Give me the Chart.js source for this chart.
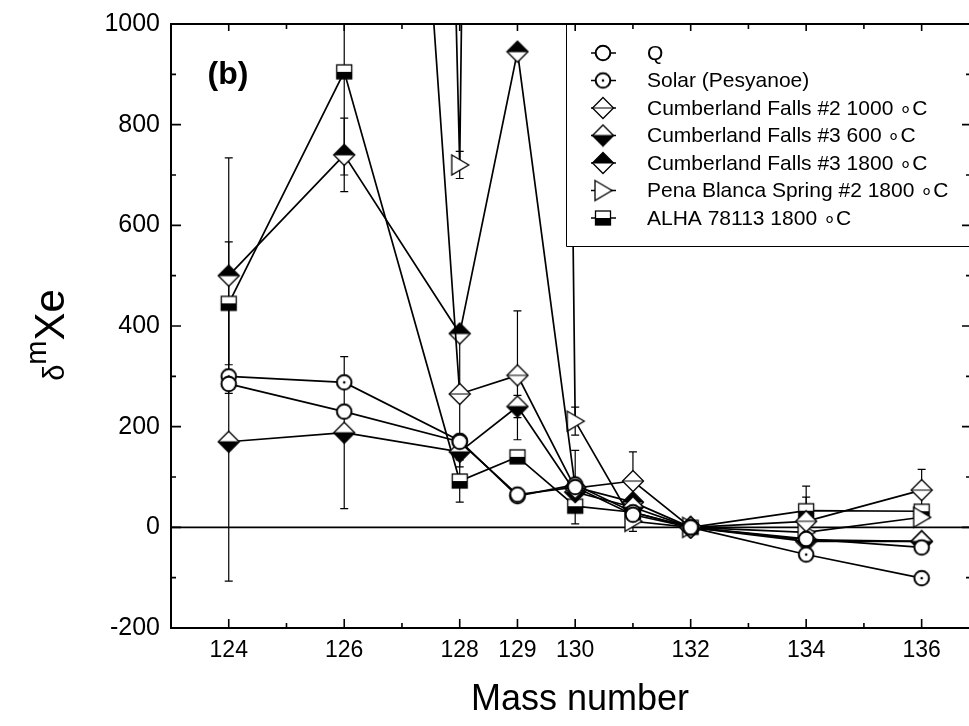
<!DOCTYPE html>
<html><head><meta charset="utf-8">
<script src="https://cdn.jsdelivr.net/npm/chart.js@4.4.1/dist/chart.umd.min.js"></script>
<style>html,body{margin:0;padding:0;background:#fff;}canvas{display:block;}</style>
</head><body>
<canvas id="c" width="969" height="726"></canvas>
<script>
// ---------- data ----------
const masses = [124, 126, 128, 129, 130, 131, 132, 134, 136];
const xTickLabels = [124, 126, 128, 129, 130, 132, 134, 136];
const yTickValues = [-200, 0, 200, 400, 600, 800, 1000];
const seriesNames = ["Q", "Solar (Pesyanoe)", "Cumberland Falls #2 1000 \u2218C", "Cumberland Falls #3 600 \u2218C",
  "Cumberland Falls #3 1800 \u2218C", "Pena Blanca Spring #2 1800 \u2218C", "ALHA 78113 1800 \u2218C"];
const qValues      = [285, 230, 170, 65, 80, 25, 0, -23, -40];
const solarValues  = [300, 288, 172, 62, 85, 30, 0, -54, -101];
const cf2_1000     = [null, 3550, 265, 302, 78, 92, 0, 12, 74];
const cf3_600      = [170, 188, 150, 240, 70, 40, 0, -25, -28];
const cf3_1800     = [500, 740, 385, 945, 80, 50, 0, -28, -28];
const pena_1800    = [null, 10000, 720, 10000, 211, 12, 0, -10, 20];
const alha_1800    = [445, 905, 92, 140, 42, 30, 0, 33, 32];
// symmetric error bars (null = none)
const qErr      = [null, null, null, null, 73, null, null, null, null];
const solarErr  = [null, null, null, null, null, null, null, null, null];
const cf2Err    = [null, null, 115, 128, null, 58, null, 48, 41];
const cf3_600Err  = [277, 151, 30, 22, null, null, null, null, null];
const cf3_1800Err = [234, 73, null, 10, null, null, null, null, null];
const penaErr   = [null, null, 27, null, 28, 20, null, null, null];
const alhaErr   = [122, 205, 42, null, null, null, null, 49, null];

const allValues = [qValues, solarValues, cf2_1000, cf3_600, cf3_1800, pena_1800, alha_1800];
const allErrs = [qErr, solarErr, cf2Err, cf3_600Err, cf3_1800Err, penaErr, alhaErr];
const markerKinds = ["circle", "dotCircle", "diamond", "diamondBottom", "diamondTop", "triRight", "squareBottom"];

// ---------- markers ----------
function makeMarker(kind) {
  const S = 24, c = document.createElement('canvas');
  c.width = S; c.height = S;
  const g = c.getContext('2d');
  const cx = S / 2, cy = S / 2;
  g.lineWidth = 1.3; g.strokeStyle = '#000'; g.fillStyle = '#fff';
  if (kind === 'circle' || kind === 'dotCircle') {
    g.beginPath(); g.arc(cx, cy, 7.3, 0, Math.PI * 2); g.fill(); g.lineWidth = 2; g.stroke();
    if (kind === 'dotCircle') { g.fillStyle = '#000'; g.beginPath(); g.arc(cx, cy, 1.3, 0, Math.PI * 2); g.fill(); }
  } else if (kind.startsWith('diamond')) {
    const w = 10.5, h = 10.5;
    g.beginPath(); g.moveTo(cx, cy - h); g.lineTo(cx + w, cy); g.lineTo(cx, cy + h); g.lineTo(cx - w, cy); g.closePath(); g.fill();
    g.fillStyle = '#000';
    if (kind === 'diamondBottom') { g.beginPath(); g.moveTo(cx - w, cy); g.lineTo(cx + w, cy); g.lineTo(cx, cy + h); g.closePath(); g.fill(); }
    if (kind === 'diamondTop') { g.beginPath(); g.moveTo(cx - w, cy); g.lineTo(cx + w, cy); g.lineTo(cx, cy - h); g.closePath(); g.fill(); }
    g.beginPath(); g.moveTo(cx, cy - h); g.lineTo(cx + w, cy); g.lineTo(cx, cy + h); g.lineTo(cx - w, cy); g.closePath(); g.stroke();
    g.beginPath(); g.moveTo(cx - w, cy); g.lineTo(cx + w, cy); g.lineWidth = 1; g.stroke();
  } else if (kind === 'triRight') {
    g.beginPath(); g.moveTo(cx - 8, cy - 10); g.lineTo(cx + 9, cy); g.lineTo(cx - 8, cy + 10); g.closePath(); g.fill(); g.stroke();
  } else if (kind === 'squareBottom') {
    g.fillRect(cx - 7.5, cy - 7, 15, 14);
    g.fillStyle = '#000'; g.fillRect(cx - 7.5, cy, 15, 7);
    g.strokeRect(cx - 7.5, cy - 7, 15, 14);
  }
  return c;
}
const markers = markerKinds.map(makeMarker);

// ---------- datasets ----------
const datasets = allValues.map((vals, i) => ({
  label: seriesNames[i],
  data: masses.map((m, j) => ({ x: m, y: vals[j] })),
  showLine: true,
  borderColor: '#000',
  borderWidth: 1.7,
  pointStyle: markers[i],
  pointRadius: 10,
  pointHoverRadius: 10,
  spanGaps: false,
  tension: 0
}));

// ---------- plugins ----------
const errorBars = {
  id: 'errorBars',
  beforeDatasetsDraw(chart) {
    const { ctx, chartArea: a, scales: { x, y } } = chart;
    ctx.save();
    ctx.beginPath(); ctx.rect(a.left, a.top, a.right - a.left, a.bottom - a.top); ctx.clip();
    ctx.strokeStyle = '#000'; ctx.lineWidth = 1.2;
    allErrs.forEach((errs, i) => {
      errs.forEach((e, j) => {
        const v = allValues[i][j];
        if (e == null || v == null) return;
        const px = x.getPixelForValue(masses[j]);
        const y1 = y.getPixelForValue(v + e), y2 = y.getPixelForValue(v - e);
        ctx.beginPath();
        ctx.moveTo(px, y1); ctx.lineTo(px, y2);
        ctx.moveTo(px - 4, y1); ctx.lineTo(px + 4, y1);
        ctx.moveTo(px - 4, y2); ctx.lineTo(px + 4, y2);
        ctx.stroke();
      });
    });
    ctx.restore();
  }
};

const frame = {
  id: 'frame',
  beforeDatasetsDraw(chart) {
    const { ctx, scales: { x, y }, chartArea: a } = chart;
    ctx.save();
    ctx.strokeStyle = '#000'; ctx.lineWidth = 1.8;
    const y0 = y.getPixelForValue(0);
    ctx.beginPath(); ctx.moveTo(a.left, y0); ctx.lineTo(a.right, y0); ctx.stroke();
    ctx.restore();
  },
  afterDatasetsDraw(chart) {
    const { ctx, scales: { x, y }, chartArea: a } = chart;
    ctx.save();
    // legend box
    const lx = 566, ly = a.top, lb = 246;
    ctx.fillStyle = '#fff'; ctx.fillRect(lx, ly, 969 - lx + 5, lb - ly);
    ctx.strokeStyle = '#000'; ctx.lineWidth = 1;
    ctx.beginPath(); ctx.moveTo(lx + 0.5, ly); ctx.lineTo(lx + 0.5, lb + 0.5); ctx.lineTo(975, lb + 0.5); ctx.stroke();
    ctx.font = '21px "Liberation Sans", Arial, sans-serif';
    ctx.fillStyle = '#000'; ctx.textBaseline = 'middle'; ctx.textAlign = 'left';
    seriesNames.forEach((n, i) => {
      const yy = 53 + i * 27.5;
      ctx.lineWidth = 1.5;
      ctx.beginPath(); ctx.moveTo(591, yy); ctx.lineTo(616, yy); ctx.stroke();
      ctx.drawImage(markers[i], 603 - 12, yy - 12);
      ctx.fillText(n, 647, yy + 1);
    });
    // axes frame (right frame line lies just outside the picture)
    ctx.lineWidth = 2;
    ctx.beginPath();
    ctx.moveTo(a.left, a.top); ctx.lineTo(a.right, a.top);
    ctx.moveTo(a.left, a.bottom); ctx.lineTo(a.right, a.bottom);
    ctx.moveTo(a.left, a.top - 1); ctx.lineTo(a.left, a.bottom + 1);
    ctx.stroke();
    // x ticks (inward)
    ctx.lineWidth = 1.6;
    for (let m = 123; m <= 137; m++) {
      const px = x.getPixelForValue(m);
      if (px < a.left || px > a.right) continue;
      const major = xTickLabels.includes(m);
      const L = major ? 9 : 5;
      ctx.beginPath();
      ctx.moveTo(px, a.bottom); ctx.lineTo(px, a.bottom - L);
      ctx.moveTo(px, a.top); ctx.lineTo(px, a.top + (major ? 7 : 5));
      ctx.stroke();
    }
    // y ticks
    for (let v = -200; v <= 1000; v += 100) {
      const py = y.getPixelForValue(v);
      const major = yTickValues.includes(v);
      ctx.beginPath();
      ctx.moveTo(a.left, py); ctx.lineTo(a.left + (major ? 10 : 5), py);
      ctx.moveTo(a.right, py); ctx.lineTo(a.right - (major ? 7 : 3), py);
      ctx.stroke();
    }
    // panel label
    ctx.font = 'bold 32px "Liberation Sans", Arial, sans-serif';
    ctx.textAlign = 'center'; ctx.textBaseline = 'middle';
    ctx.fillText('(b)', 228, 75);
    // y title
    ctx.save();
    ctx.translate(64, 335);
    ctx.rotate(-Math.PI / 2);
    ctx.textBaseline = 'alphabetic'; ctx.textAlign = 'left';
    const f1 = '29px "Liberation Sans", Arial, sans-serif';
    const f2 = '42px "Liberation Sans", Arial, sans-serif';
    ctx.font = f1; const wd = ctx.measureText('\u03B4').width; const wm = ctx.measureText('m').width;
    ctx.font = f2; const wx = ctx.measureText('Xe').width;
    let sx = -(wd + wm + wx) / 2;
    ctx.font = f1; ctx.fillText('\u03B4', sx, 0); sx += wd;
    ctx.fillText('m', sx, -18); sx += wm;
    ctx.font = f2; ctx.fillText('Xe', sx, 0);
    ctx.restore();
    // x title
    ctx.font = '36px "Liberation Sans", Arial, sans-serif';
    ctx.textAlign = 'center'; ctx.textBaseline = 'middle';
    ctx.fillText('Mass number', 580, 700);
    ctx.restore();
  }
};

Chart.defaults.font.family = '"Liberation Sans", Arial, sans-serif';
Chart.defaults.color = '#000';

new Chart(document.getElementById('c'), {
  type: 'scatter',
  data: { datasets },
  options: {
    responsive: false,
    animation: false,
    events: [],
    layout: { autoPadding: false, padding: { left: 0, top: 24, right: 0, bottom: 0 } },
    plugins: { legend: { display: false }, tooltip: { enabled: false } },
    scales: {
      x: {
        type: 'linear', min: 123, max: 136.82,
        grid: { display: false, drawTicks: false },
        border: { display: false },
        afterBuildTicks: s => { s.ticks = xTickLabels.map(v => ({ value: v })); },
        afterFit: s => { s.height = 98; s.paddingLeft = 0; s.paddingRight = 0; },
        ticks: { autoSkip: false, maxRotation: 0, padding: 9, font: { size: 23 }, callback: v => String(v) }
      },
      y: {
        type: 'linear', min: -200, max: 1000,
        grid: { display: false, drawTicks: false },
        border: { display: false },
        afterBuildTicks: s => { s.ticks = yTickValues.map(v => ({ value: v })); },
        afterFit: s => { s.width = 171; s.paddingTop = 0; s.paddingBottom = 0; },
        ticks: { padding: 11, font: { size: 25 }, callback: v => String(v) }
      }
    }
  },
  plugins: [errorBars, frame]
});
</script>
</body></html>
